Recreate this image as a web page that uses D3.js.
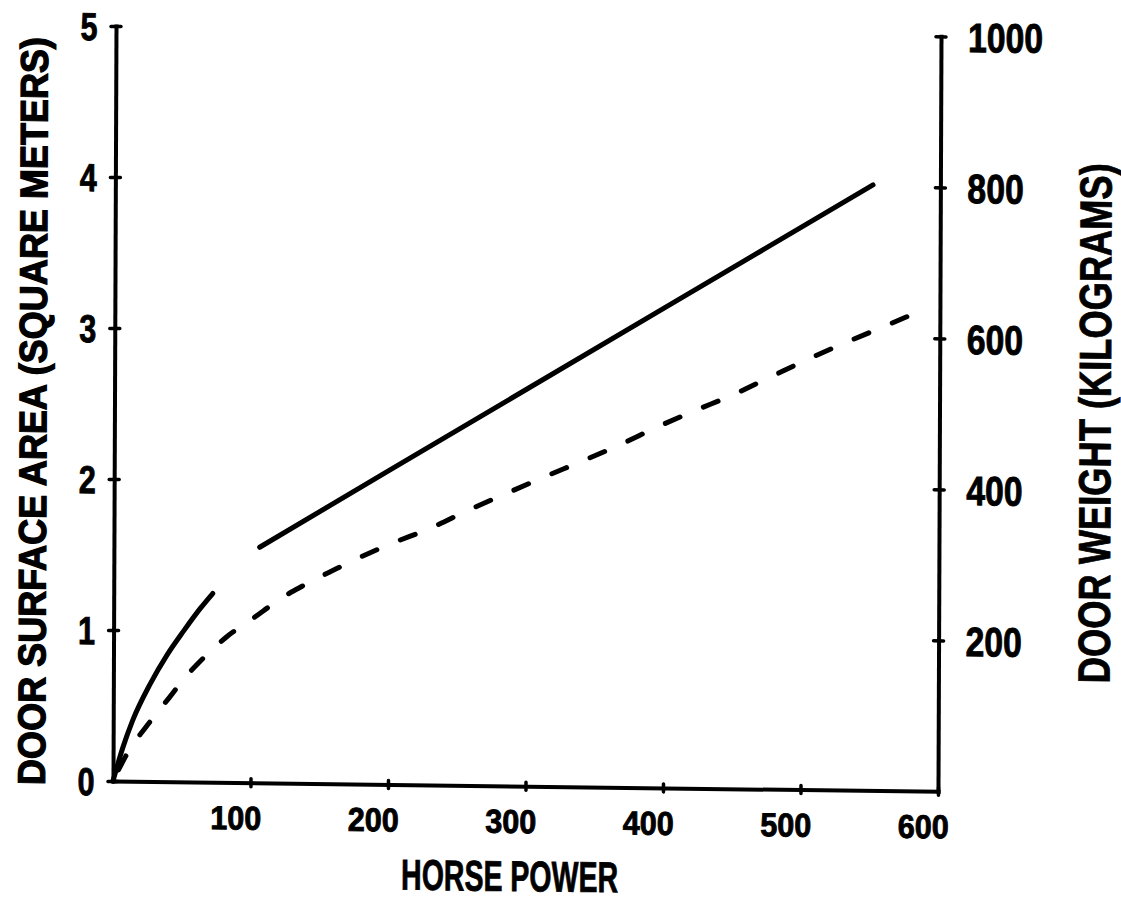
<!DOCTYPE html>
<html>
<head>
<meta charset="utf-8">
<script src="https://cdn.jsdelivr.net/npm/d3@7"></script>
<style>
  html, body { margin: 0; padding: 0; background: #fff; }
  svg { display: block; }
</style>
</head>
<body>
<svg id="chart" width="1121" height="908"></svg>
<script>
// Axis ticks
const hpTicks = [100, 200, 300, 400, 500, 600];
const areaTicks = [0, 1, 2, 3, 4, 5];
const weightTicks = [200, 400, 600, 800, 1000];

// Solid curve, low-power branch (horse power, square meters)
const solidLowHp   = [0, 7, 14, 27, 39, 51, 63, 72];
const solidLowArea = [0, 0.22, 0.40, 0.65, 0.84, 1.00, 1.15, 1.25];

// Solid line, high-power branch
const solidHighHp   = [106, 200, 300, 400, 500, 551];
const solidHighArea = [1.56, 2.08, 2.63, 3.18, 3.73, 4.01];

// Dashed curve
const dashedHp   = [0, 14, 23, 33, 41, 51, 62, 72, 83, 97, 109, 121, 134, 148, 161, 174, 188, 203,
                    230, 257, 286, 313, 341, 368, 395, 422, 450, 477, 504, 533, 561, 576];
const dashedArea = [0, 0.24, 0.35, 0.47, 0.56, 0.68, 0.79, 0.88, 0.97, 1.06, 1.14, 1.22, 1.29, 1.36, 1.42, 1.48, 1.54, 1.60,
                    1.70, 1.82, 1.94, 2.05, 2.16, 2.27, 2.39, 2.50, 2.61, 2.73, 2.85, 2.97, 3.08, 3.14];

const plotW = 825, plotH = 755;
const FONT = "'Liberation Sans Narrow','Liberation Sans',Arial,sans-serif";

const svg = d3.select('#chart');
svg.append('rect').attr('width', 1121).attr('height', 908).attr('fill', '#fff');

// Plot frame, slightly skewed like the plotted sheet
const g = svg.append('g')
  .attr('transform', 'matrix(1,0.0125,-0.004,1,116,26)')
  .attr('font-family', FONT)
  .attr('font-weight', 'bold')
  .attr('fill', '#000');

const x = d3.scaleLinear().domain([0, 600]).range([0, plotW]);
const yArea = d3.scaleLinear().domain([0, 5]).range([plotH, 0]);
const yWeight = d3.scaleLinear().domain([0, 1000]).range([plotH, 0]);

function styleAxis(sel) {
  sel.attr('font-family', null).attr('font-size', null);
  sel.select('.domain').attr('stroke', '#000').attr('stroke-width', 4).attr('stroke-linecap', 'square');
  sel.selectAll('.tick line').attr('stroke', '#000').attr('stroke-width', 3.5).attr('stroke-linecap', 'round');
  sel.selectAll('.tick text')
    .attr('fill', '#000').attr('stroke', '#000').attr('stroke-width', 0.9)
    .attr('lengthAdjust', 'spacingAndGlyphs');
}

// Left axis: surface area
const leftAxis = g.append('g')
  .call(d3.axisLeft(yArea).tickValues(areaTicks).tickSizeOuter(0).tickSizeInner(0).tickFormat(d3.format('d')));
styleAxis(leftAxis);
leftAxis.selectAll('.tick line').attr('x1', -5).attr('x2', 5);
leftAxis.selectAll('.tick text')
  .attr('x', -27).attr('dy', '0.36em').attr('text-anchor', 'middle')
  .attr('font-size', 39)
  .attr('textLength', d => 17 * String(d).length);

// Bottom axis: horse power
const bottomAxis = g.append('g')
  .attr('transform', `translate(0,${plotH})`)
  .call(d3.axisBottom(x).tickValues(hpTicks).tickSizeOuter(0).tickSizeInner(0).tickFormat(d3.format('d')));
styleAxis(bottomAxis);
bottomAxis.selectAll('.tick line').attr('y1', -4).attr('y2', 4);
bottomAxis.selectAll('.tick text')
  .attr('x', -15).attr('y', 35).attr('dy', '0.36em').attr('text-anchor', 'middle')
  .attr('font-size', 33)
  .attr('textLength', d => 17 * String(d).length);

// Right axis: weight
const rightAxis = g.append('g')
  .attr('transform', `translate(${plotW},0)`)
  .call(d3.axisRight(yWeight).tickValues(weightTicks).tickSizeOuter(0).tickSizeInner(0).tickFormat(d3.format('d')));
styleAxis(rightAxis);
rightAxis.selectAll('.tick line').attr('x1', -5).attr('x2', 5);
rightAxis.selectAll('.tick text')
  .attr('x', 27).attr('dy', '0.36em').attr('text-anchor', 'start')
  .attr('font-size', 41)
  .attr('textLength', d => 18.8 * String(d).length);

// Axis titles
const titles = g.append('g').attr('stroke', '#000').attr('stroke-width', 0.8);

titles.append('text')
  .attr('x', 397).attr('y', 860)
  .attr('text-anchor', 'middle')
  .attr('font-size', 43)
  .attr('textLength', 217).attr('lengthAdjust', 'spacingAndGlyphs')
  .text('HORSE POWER');

titles.append('text')
  .attr('transform', 'translate(-82,386) rotate(-90)')
  .attr('text-anchor', 'middle').attr('dy', '0.36em')
  .attr('font-size', 38.5)
  .attr('stroke-width', 1.3)
  .attr('textLength', 748).attr('lengthAdjust', 'spacingAndGlyphs')
  .text('DOOR SURFACE AREA (SQUARE METERS)');

titles.append('text')
  .attr('transform', 'translate(980,385) rotate(-90)')
  .attr('text-anchor', 'middle').attr('dy', '0.36em')
  .attr('font-size', 45)
  .attr('textLength', 520).attr('lengthAdjust', 'spacingAndGlyphs')
  .text('DOOR WEIGHT (KILOGRAMS)');

// Curves
const curveLine = d3.line().x(d => x(d[0])).y(d => yArea(d[1])).curve(d3.curveMonotoneX);
const straightLine = d3.line().x(d => x(d[0])).y(d => yArea(d[1]));

g.append('path')
  .datum(d3.zip(solidLowHp, solidLowArea))
  .attr('d', curveLine)
  .attr('fill', 'none').attr('stroke', '#000').attr('stroke-width', 5).attr('stroke-linecap', 'round');

g.append('path')
  .datum(d3.zip(solidHighHp, solidHighArea))
  .attr('d', straightLine)
  .attr('fill', 'none').attr('stroke', '#000').attr('stroke-width', 5).attr('stroke-linecap', 'round');

const dash = 16, gap = 25.5;
const dashed = g.append('path')
  .datum(d3.zip(dashedHp, dashedArea))
  .attr('d', curveLine)
  .attr('fill', 'none').attr('stroke', '#000').attr('stroke-width', 5).attr('stroke-linecap', 'round')
  .attr('stroke-dasharray', `${dash},${gap}`);
// End the pattern on a dash at the far end of the curve
const len = dashed.node().getTotalLength();
const period = dash + gap;
dashed.attr('stroke-dashoffset', (((dash - len) % period) + period) % period);
</script>
</body>
</html>
